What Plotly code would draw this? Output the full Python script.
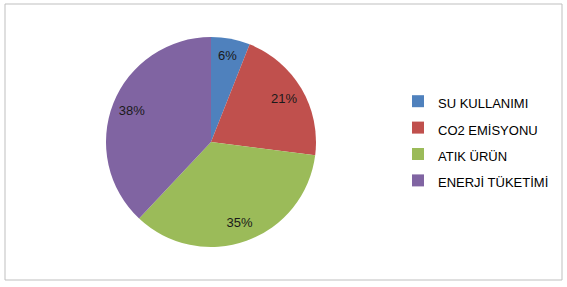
import plotly.graph_objects as go

labels = ["SU KULLANIMI", "CO2 EMİSYONU", "ATIK ÜRÜN", "ENERJİ TÜKETİMİ"]
values = [6, 21, 35, 38]
colors = ["#4F81BD", "#C0504D", "#9BBB59", "#8064A2"]

W, H = 567, 287
dom = dict(x=[106 / W, 316 / W], y=[(H - 247) / H, (H - 37) / H])

legend_labels = ["<span style='font-size:13px'>%s</span>" % s for s in labels]

fig = go.Figure()
# coloured pie (legend)
fig.add_trace(go.Pie(
    labels=legend_labels,
    values=values,
    sort=False,
    direction="clockwise",
    rotation=0,
    marker=dict(colors=colors, line=dict(width=0)),
    textinfo="none",
    domain=dom,
    hovertext=labels,
    hoverinfo="text+percent",
))
# transparent ring carrying the percentage labels near the outer edge
fig.add_trace(go.Pie(
    labels=legend_labels,
    values=values,
    sort=False,
    direction="clockwise",
    rotation=0,
    hole=0.62,
    marker=dict(colors=["rgba(0,0,0,0)"] * len(values), line=dict(width=0)),
    texttemplate="%{value}%",
    textposition="inside",
    insidetextorientation="horizontal",
    textfont=dict(family="Liberation Sans", size=13, color="#1a1a1a"),
    domain=dom,
    showlegend=False,
    hoverinfo="skip",
))

fig.update_layout(
    width=W, height=H,
    margin=dict(l=0, r=0, t=0, b=0),
    paper_bgcolor="white",
    plot_bgcolor="white",
    font=dict(family="Liberation Sans", size=12, color="#000000"),
    showlegend=True,
    legend=dict(
        x=398 / W, y=(H - 83) / H, xanchor="left", yanchor="top",
        font=dict(family="Liberation Sans", size=18, color="#000000"),
        bgcolor="rgba(0,0,0,0)",
        tracegroupgap=0,
    ),
    shapes=[dict(type="rect", xref="paper", yref="paper",
                 x0=5 / W, x1=562 / W, y0=(H - 280) / H, y1=(H - 4) / H,
                 line=dict(color="#BFBFBF", width=1), fillcolor="rgba(0,0,0,0)")],
)

fig.write_html("out.html")
